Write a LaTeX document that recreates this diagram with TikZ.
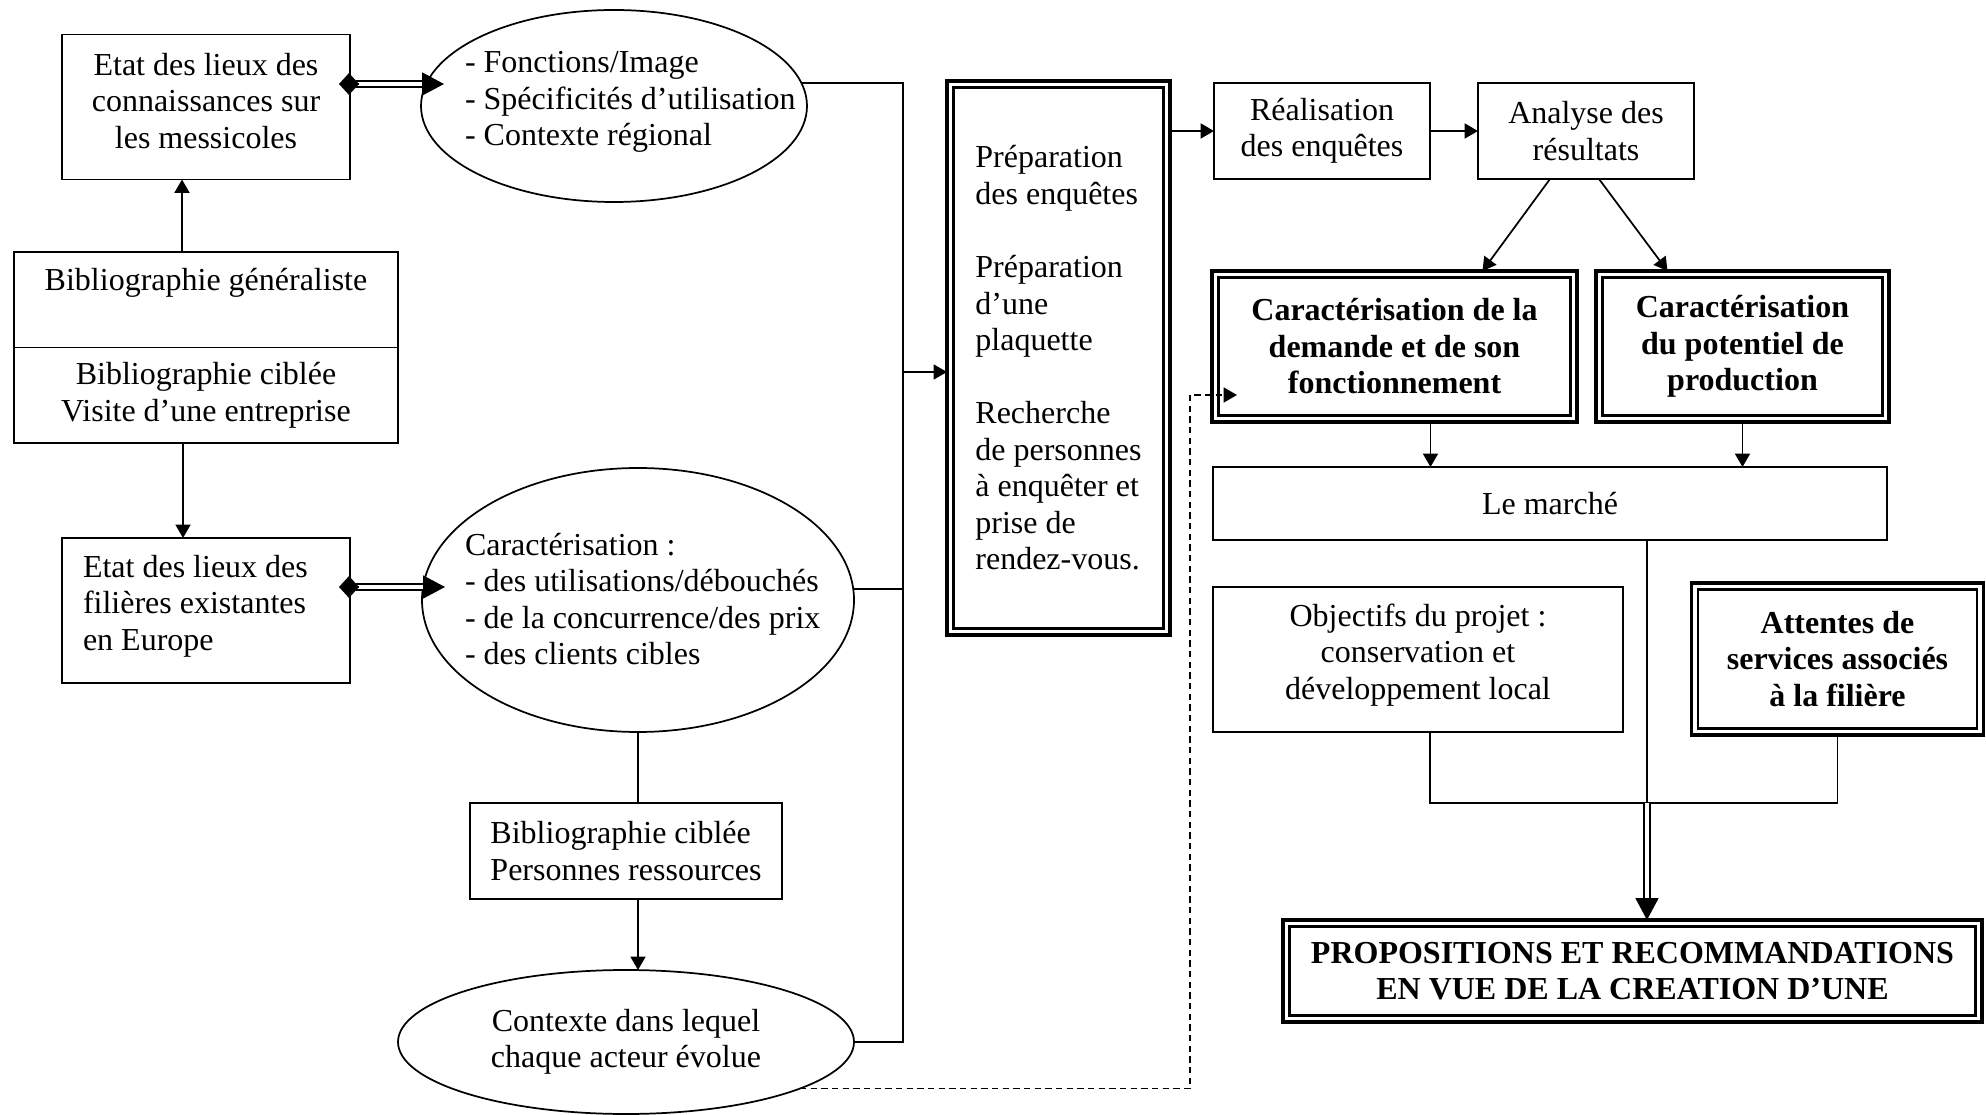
\documentclass[tikz,border=0pt]{standalone}
\usepackage{fontspec}
\setmainfont{Liberation Serif}
\usetikzlibrary{arrows.meta,shapes.geometric}

\tikzset{
  txt/.style={font=\fontsize{12}{13.7}\selectfont, inner sep=0pt, outer sep=0pt},
  bx/.style n args={2}{txt, draw, line width=0.65pt, minimum width=#1*0.375pt, minimum height=#2*0.375pt, align=center},
  dbx/.style n args={2}{bx={#1}{#2}, line width=1.25pt, font=\fontsize{12}{13.7}\selectfont\bfseries},
  ell/.style n args={2}{txt, draw, ellipse, line width=0.65pt, minimum width=#1*0.375pt, minimum height=#2*0.375pt, align=center},
  link/.style={line width=0.65pt},
  arr/.style={link, -{Triangle[length=5pt,width=5.6pt]}},
  dashlink/.style={link, dash pattern=on 2.4pt off 1.6pt, -{Triangle[length=5pt,width=5.6pt]}},
  dblshaft/.style={line width=0.6pt, double, double distance=1.6pt},
  bighead/.style={line width=0.6pt, -{Triangle[length=8.2pt,width=8.6pt]}},
  diamtip/.style={line width=0.6pt, -{Diamond[length=7.5pt,width=8.2pt]}},
}
% thin second frame inside a double-framed box
\newcommand\innerframe[1]{\draw[line width=0.85pt] ([shift={(6.5,6.5)}]#1.north west) rectangle ([shift={(-6.5,-6.5)}]#1.south east);}

\begin{document}
\begin{tikzpicture}[x=0.375pt,y=-0.375pt]
\useasboundingbox (0,0) rectangle (1986,1115);

% ---- left column
\node[bx={288}{145}] (a) at (206,107) {};
\node[txt, align=center] (at) at (206,101) {Etat des lieux des\\connaissances sur\\les messicoles};
\node[bx={384}{191}] (b) at (206,347.5) {};
\draw[link] (b.west) -- (b.east);
\node[txt] (b1) at (206,283) {Bibliographie généraliste};
\node[txt, align=center] (b2) at (206,395.5) {Bibliographie ciblée\\Visite d’une entreprise};
\node[bx={288}{145}] (c) at (206,610.5) {};
\node[txt, align=left, anchor=west] (ct) at (83,606) {Etat des lieux des\\filières existantes\\en Europe};

% ---- ellipses and sources
\node[ell={386}{192}] (e1) at (614,106) {};
\node[txt, align=left, anchor=west] (e1t) at (465,102) {- Fonctions/Image\\- Spécificités d’utilisation\\- Contexte régional};
\node[ell={432}{264}] (e2) at (638,600) {};
\node[txt, align=left, anchor=west] (e2t) at (465,599) {Caractérisation :\\- des utilisations/débouchés\\- de la concurrence/des prix\\- des clients cibles};
\node[bx={312}{96}, align=left] (d) at (626,851) {Bibliographie ciblée\\Personnes ressources};
\node[ell={456}{144}] (e3) at (626,1042) {Contexte dans lequel\\chaque acteur évolue};

% ---- survey preparation
\node[dbx={223}{554}, font=\fontsize{12}{13.7}\selectfont, align=left] (g) at (1058.5,358)
  {Préparation\\des enquêtes\\[13.7pt]Préparation\\d’une\\plaquette\\[13.7pt]Recherche\\de personnes\\à enquêter et\\prise de\\rendez-vous.};
\innerframe{g}

% ---- right part
\node[bx={216}{96}] (h) at (1322,131) {Réalisation\\des enquêtes};
\node[bx={216}{96}] (i) at (1586,131) {Analyse des\\résultats};
\node[dbx={365}{151}] (f1) at (1394.5,346.5) {Caractérisation de la\\demande et de son\\fonctionnement};
\innerframe{f1}
\node[dbx={293}{151}] (f2) at (1742.5,346.5) {Caractérisation\\du potentiel de\\production};
\innerframe{f2}
\node[bx={674}{73}] (m) at (1550,503.5) {Le marché};
\node[bx={410}{145}] (o) at (1418,659.5) {};
\node[txt, align=center] (ot) at (1418,655) {Objectifs du projet :\\conservation et\\développement local};
\node[dbx={292}{152}] (t) at (1837.5,659) {Attentes de\\services associés\\à la filière};
\innerframe{t}
\node[dbx={699}{102}] (p) at (1632.5,971) {PROPOSITIONS ET RECOMMANDATIONS\\EN VUE DE LA CREATION D’UNE};
\innerframe{p}

% ---- connectors, left column
\path ([shift={(-24,0)}]b.north) coordinate (ba);
\draw[arr] (ba) -- (ba |- a.south);
\path ([shift={(-23,0)}]b.south) coordinate (bc);
\draw[arr] (bc) -- (bc |- c.north);

% double arrows with diamond tails
\path ([shift={(-11,-23)}]a.east) coordinate (q1);
\path (q1 -| e1.west) coordinate (q1x);
\path ([shift={(23,0)}]q1x) coordinate (q2);
\draw[dblshaft, shorten <=6.5pt, shorten >=7.5pt] (q1) -- (q2);
\draw[diamtip] ([shift={(20,0)}]q1) -- (q1);
\draw[bighead] ([shift={(-22,0)}]q2) -- (q2);

\path ([shift={(-11,-23.5)}]c.east) coordinate (r1);
\path (r1 -| e2.west) coordinate (r1x);
\path ([shift={(23,0)}]r1x) coordinate (r2);
\draw[dblshaft, shorten <=6.5pt, shorten >=7.5pt] (r1) -- (r2);
\draw[diamtip] ([shift={(20,0)}]r1) -- (r1);
\draw[bighead] ([shift={(-22,0)}]r2) -- (r2);

% sources of the context ellipse
\draw[link] (e2.south) -- (e2.south |- d.north);
\path (d.south -| e2.south) coordinate (de);
\draw[arr] (de) -- (de |- e3.north);

% collecting bus towards the survey preparation
\path (903,0) coordinate (bus);
\draw[link] (e1.7) -| (e3.east -| bus) -- (e3.east);
\draw[link] (e2.3) -- (e2.3 -| bus);
\path ([shift={(0,14)}]g.west) coordinate (gin);
\draw[arr] (gin -| bus) -- (gin);

% ---- connectors, right part
\draw[arr] (h.west -| g.east) -- (h.west);
\draw[arr] (h.east) -- (i.west);
\draw[arr] ([shift={(-36,0)}]i.south) -- ([shift={(88,0)}]f1.north);
\draw[arr] ([shift={(13,0)}]i.south) -- ([shift={(-75,0)}]f2.north);
\path ([shift={(36,0)}]f1.south) coordinate (f1m);
\draw[arr] (f1m) -- (f1m |- m.north);
\draw[arr] (f2.south) -- (f2.south |- m.north);

\path ([shift={(97,0)}]m.south) coordinate (ms);
\path ([shift={(0,263)}]ms) coordinate (jn);
\draw[link] (ms) -- (jn);
\draw[link] ([shift={(12,0)}]o.south) |- (jn) -| (t.south);
\path (jn |- p.north) coordinate (pn);
\draw[dblshaft, shorten >=7.5pt] (jn) -- (pn);
\draw[bighead] ([shift={(0,-22)}]pn) -- (pn);

% dashed feedback from the context ellipse
\path ([shift={(25,48.5)}]f1.west) coordinate (dt);
\path (1190,0) coordinate (dv);
\draw[dashlink] (e3.-15) -| (dv |- dt) -- (dt);
\end{tikzpicture}
\end{document}
